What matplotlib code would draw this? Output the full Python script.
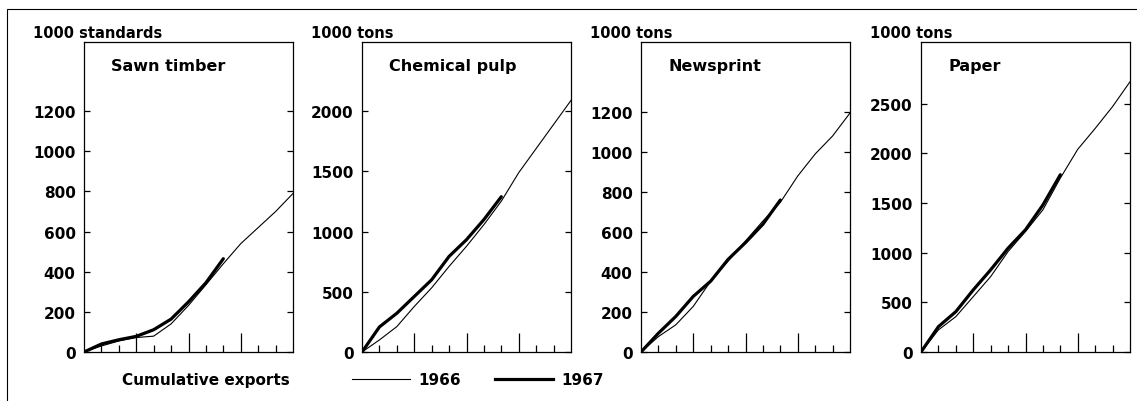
import matplotlib
matplotlib.use('Agg')
import matplotlib.pyplot as plt
from matplotlib.lines import Line2D
from matplotlib.patches import Rectangle

plt.rcParams['font.family'] = ['DejaVu Sans']
plt.rcParams['font.weight'] = 'bold'

# months 0 (start of year) .. 12
months_66 = [0, 1, 2, 3, 4, 5, 6, 7, 8, 9, 10, 11, 12]
months_67 = [0, 1, 2, 3, 4, 5, 6, 7, 8]

titles = ['Sawn timber', 'Chemical pulp', 'Newsprint', 'Paper']
units = ['1000 standards', '1000 tons', '1000 tons', '1000 tons']

sawn_66 = [0, 30, 55, 72, 79, 140, 232, 335, 440, 540, 620, 700, 790]
sawn_67 = [0, 40, 61, 78, 111, 164, 250, 345, 465]
pulp_66 = [0, 100, 211, 378, 533, 711, 878, 1058, 1253, 1490, 1690, 1890, 2090]
pulp_67 = [0, 208, 322, 461, 600, 794, 933, 1100, 1290]
news_66 = [0, 77, 136, 228, 354, 454, 555, 655, 748, 880, 990, 1080, 1195]
news_67 = [0, 94, 178, 278, 354, 463, 547, 639, 760]
paper_66 = [0, 222, 356, 557, 759, 1011, 1213, 1431, 1750, 2040, 2250, 2470, 2720]
paper_67 = [0, 255, 406, 625, 827, 1045, 1230, 1480, 1784]

series_66 = [sawn_66, pulp_66, news_66, paper_66]
series_67 = [sawn_67, pulp_67, news_67, paper_67]

yticks = [[0, 200, 400, 600, 800, 1000, 1200],
          [0, 500, 1000, 1500, 2000],
          [0, 200, 400, 600, 800, 1000, 1200],
          [0, 500, 1000, 1500, 2000, 2500]]
ytops = [1545, 2575, 1550, 3120]

fig = plt.figure(figsize=(11.37, 4.02), dpi=100)

W, H = 1137.0, 402.0
lefts = [84, 362, 641, 921]
bottom = (H - 353) / H
height = 310 / H
width = 209 / W

for i in range(4):
    ax = fig.add_axes([lefts[i] / W, bottom, width, height])
    ax.plot(months_66, series_66[i], color='black', lw=0.8)
    ax.plot(months_67, series_67[i], color='black', lw=2.3, solid_capstyle='round')
    ax.set_xlim(0, 12)
    ax.set_ylim(0, ytops[i])
    ax.set_yticks(yticks[i])
    ax.set_yticklabels([str(v) for v in yticks[i]], fontsize=11, fontweight='bold')
    ax.tick_params(axis='y', direction='in', length=4.5, width=0.9,
                   right=True, pad=6)
    # month ticks, longer every quarter
    ax.set_xticks([3, 6, 9])
    ax.set_xticks([1, 2, 4, 5, 7, 8, 10, 11], minor=True)
    ax.tick_params(axis='x', which='major', direction='in', length=14, width=0.9,
                   labelbottom=False)
    ax.tick_params(axis='x', which='minor', direction='in', length=5, width=0.9)
    for s in ax.spines.values():
        s.set_linewidth(0.9)
    ax.text(0.13, 0.923, titles[i], transform=ax.transAxes, fontsize=11.5,
            fontweight='bold', ha='left', va='center')
    fig.text((lefts[i] - 51) / W, (H - 38) / H, units[i], fontsize=10.5,
             fontweight='bold', ha='left', va='baseline')

# legend row
fig.text(122 / W, (H - 381) / H, 'Cumulative exports', fontsize=11,
         fontweight='bold', ha='left', va='center')
handles = [Line2D([], [], color='black', lw=0.8),
           Line2D([], [], color='black', lw=2.3)]
fig.legend(handles, ['1966', '1967'], loc='center left',
           bbox_to_anchor=(352 / W, (H - 381) / H), ncol=2, frameon=False,
           prop={'size': 11, 'weight': 'bold'}, handlelength=3.8,
           handletextpad=0.55, columnspacing=2.2, borderpad=0, borderaxespad=0)

# outer page border (top and left)
fig.add_artist(Rectangle((7 / W, -0.1), 1.2, (H - 10) / H + 0.1,
                         transform=fig.transFigure, fill=False,
                         edgecolor='black', lw=0.8))

fig.savefig('out.png', dpi=100)
